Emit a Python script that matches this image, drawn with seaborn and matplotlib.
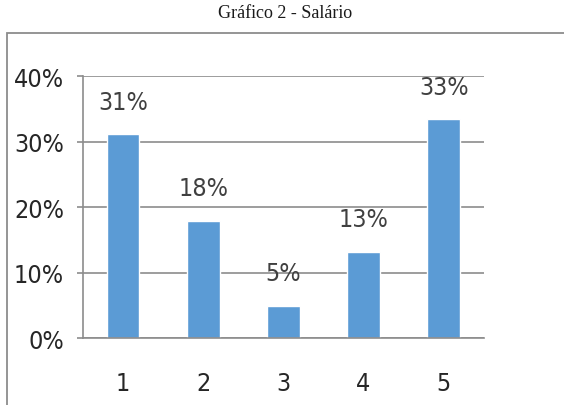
import matplotlib
matplotlib.use("Agg")
import matplotlib.pyplot as plt
import seaborn as sns
import pandas as pd
from matplotlib.patches import Rectangle

sns.set_style("white")
plt.rcParams['font.family'] = ['Liberation Sans Narrow', 'DejaVu Sans']
plt.rcParams['font.stretch'] = 'condensed'

# Data
categories = ["1", "2", "3", "4", "5"]
values = [0.311, 0.179, 0.049, 0.131, 0.334]
bar_labels = ["31%", "18%", "5%", "13%", "33%"]
y_ticks = [0.0, 0.1, 0.2, 0.3, 0.4]
y_tick_labels = ["0%", "10%", "20%", "30%", "40%"]

df = pd.DataFrame({"categoria": categories, "valor": values})

fig = plt.figure(figsize=(5.64, 4.06), dpi=100)
ax = fig.add_axes([0.147, 0.165, 0.711, 0.645])

sns.barplot(data=df, x="categoria", y="valor", color="#5B9BD5",
            saturation=1, width=0.41, ax=ax)

ax.set_ylim(0, 0.4)
ax.set_xlim(-0.5, 4.5)
ax.set_yticks(y_ticks)
ax.set_yticklabels(y_tick_labels)
ax.set_xlabel("")
ax.set_ylabel("")

# gridlines behind the bars
ax.set_axisbelow(True)
ax.yaxis.grid(True, color="#8c8c8c", linewidth=1.2)
ax.xaxis.grid(False)

for s in ["top", "right"]:
    ax.spines[s].set_visible(False)
for s in ["left", "bottom"]:
    ax.spines[s].set_color("#8c8c8c")
    ax.spines[s].set_linewidth(1.2)

# category boundary ticks on the x axis
ax.set_xticks([i - 0.5 for i in range(6)], minor=True)
ax.tick_params(axis="x", which="minor", length=9, width=1.2, color="#8c8c8c",
               direction="out")
ax.tick_params(axis="x", which="major", length=0, pad=24, labelsize=18,
               labelcolor="#262626")
ax.tick_params(axis="y", length=4.5, width=1.2, color="#8c8c8c", pad=9,
               labelsize=18, labelcolor="#262626", left=True, direction="out")

ax.bar_label(ax.containers[0], labels=bar_labels, padding=15, fontsize=18,
             color="#404040")

# outer chart border (cut off at right and bottom like the source)
fig.patches.append(Rectangle((7 / 564, -0.2), 1.2, 1 - 34 / 406 + 0.2,
                             transform=fig.transFigure, fill=False,
                             edgecolor="#8c8c8c", linewidth=1.3))

fig.text(0.505, 1 - 13 / 406, "Gráfico 2 - Salário", ha="center", va="center",
         fontsize=13, family=["Liberation Serif", "DejaVu Serif"],
         stretch="normal", color="#1a1a1a")

fig.savefig("out.png", dpi=100)
